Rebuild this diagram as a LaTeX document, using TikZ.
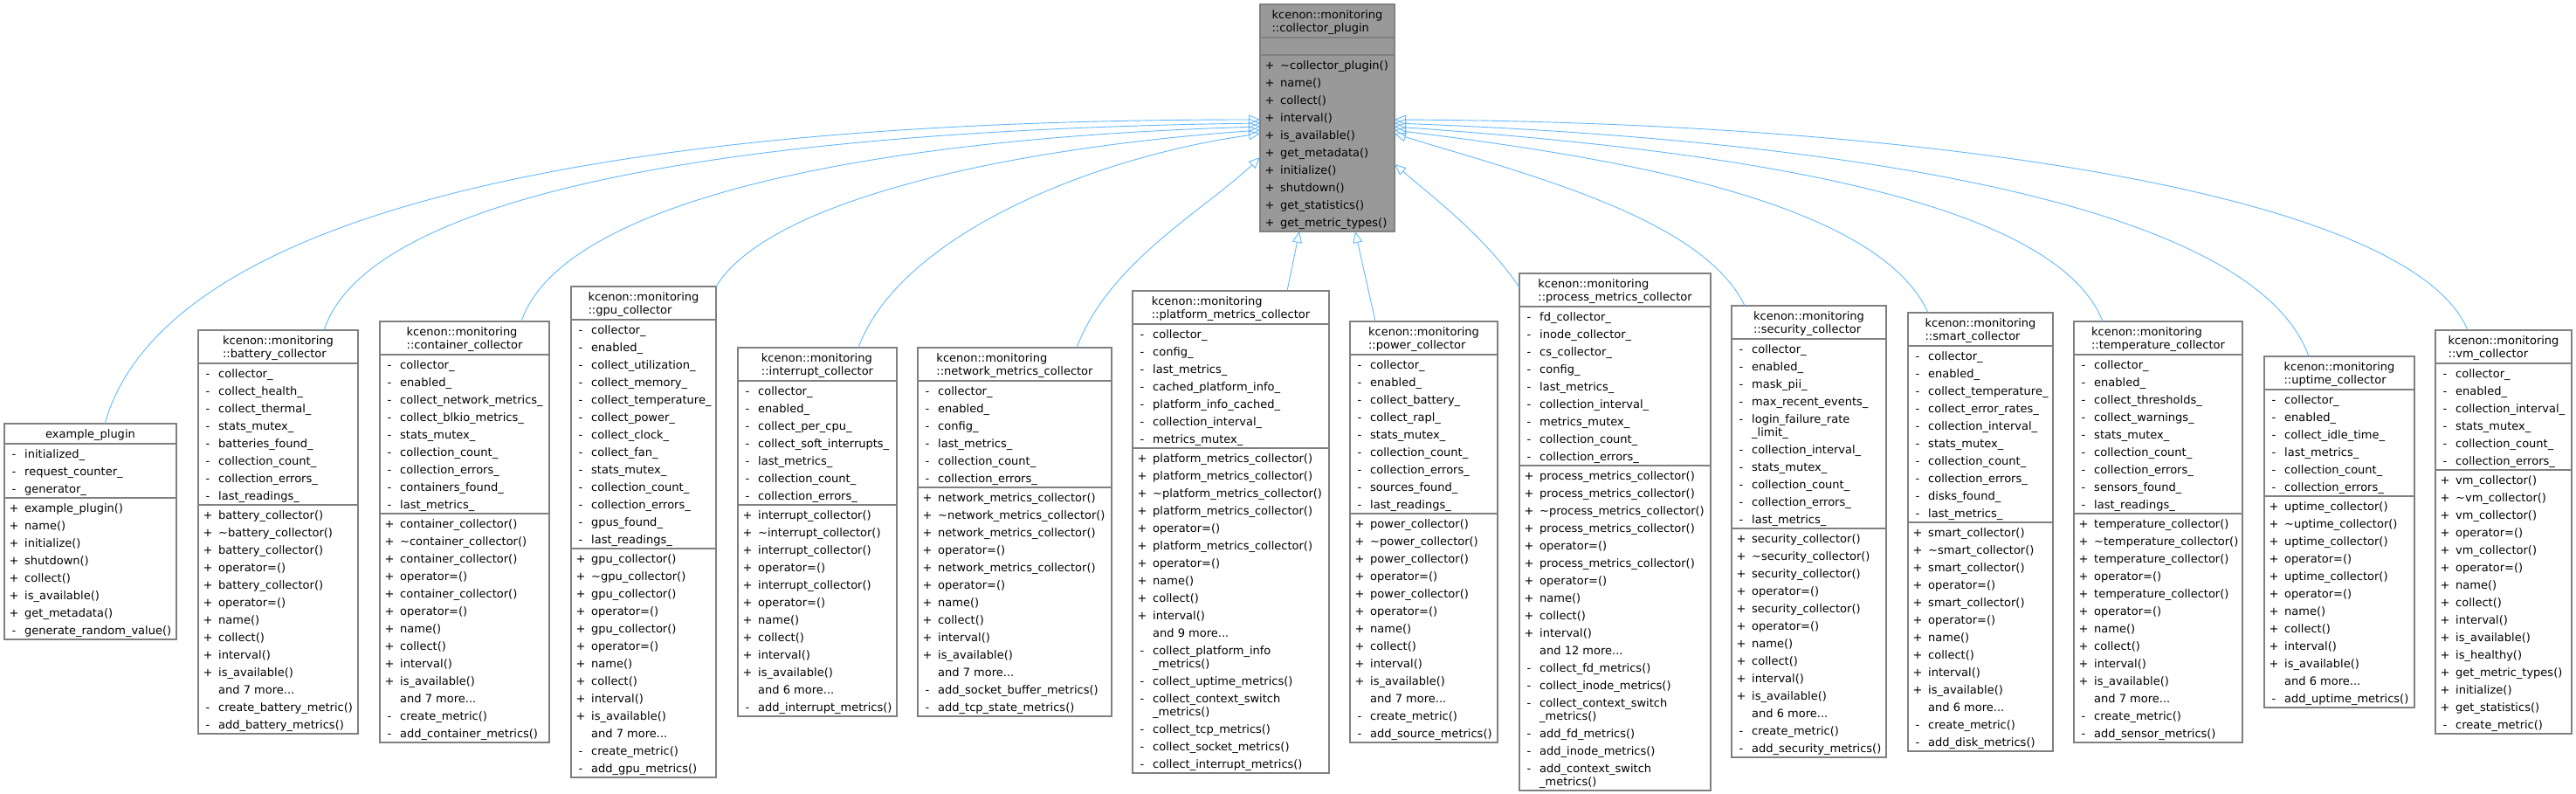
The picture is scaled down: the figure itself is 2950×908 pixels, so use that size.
\documentclass[tikz,border=0pt]{standalone}
\usepackage{fontspec}
\setmainfont{DejaVu Sans}
\usetikzlibrary{arrows.meta}
\definecolor{edgec}{HTML}{63B8FF}
\definecolor{bordc}{HTML}{808080}
\definecolor{basefill}{HTML}{999999}
\newcommand\tl{\textasciitilde}
\newcommand\dd{...}
\newcommand\bstart[5]{\xdef\bx{#1}\xdef\by{#2}\xdef\bw{#3}%
 \if\relax\detokenize{#5}\relax
  \node[ttl] at ({#1+#3/2},{#2+6}) {#4};
  \pgfmathsetmacro\cy{#2+23}\xdef\cury{\cy}%
 \else
  \node[ttl] at ({#1+#3/2},{#2+6}) {#4\\#5};
  \pgfmathsetmacro\cy{#2+38}\xdef\cury{\cy}%
 \fi
 \draw[bline] (#1,\cury) -- ++(#3,0);}
\newcommand\bsec[1]{%
 \pgfmathsetmacro\cy{\cury+1}\xdef\cury{\cy}%
 \foreach \m/\t/\h in {#1}{%
   \node[anchor=base,inner sep=0] at (\bx+11,\cury+\h-5) {\m};
   \node[anchor=base west,inner sep=0] at (\bx+23,\cury+\h-5) {\t};
   \pgfmathsetmacro\cy{\cury+\h}\xdef\cury{\cy}}%
 \pgfmathsetmacro\cy{\cury+1}\xdef\cury{\cy}%
 \draw[bline] (\bx,\cury) -- ++(\bw,0);}
\newcommand\bempty{\pgfmathsetmacro\cy{\cury+20}\xdef\cury{\cy}\draw[bline] (\bx,\cury) -- ++(\bw,0);}
\newcommand\bend[1]{\draw[bline] (\bx,\by) rectangle (\bx+\bw,\cury);
 \coordinate (#1) at (\bx,\by);}
\begin{document}
\begin{tikzpicture}[x=1pt,y=-1pt,font=\fontsize{13}{15}\selectfont,
 bline/.style={draw=bordc,line width=1.2pt},
 ttl/.style={align=left,anchor=north,inner sep=0},
 inh/.style={draw=edgec,line width=0.9pt,-{Triangle[open,length=13pt,width=11pt]}}]
\useasboundingbox (0,0) rectangle (2950,908);
% base
\fill[basefill] (1443,5) rectangle (1597,265);
\bstart{1443}{5}{154}{kcenon::monitoring}{::collector\_plugin}
\bempty
\bsec{+/\tl collector\_plugin()/20,+/name()/20,+/collect()/20,+/interval()/20,+/is\_available()/20,+/get\_metadata()/20,+/initialize()/20,+/shutdown()/20,+/get\_statistics()/20,+/get\_metric\_types()/20}
\bend{base}
% example
\bstart{5}{485}{197}{example\_plugin}{}
\bsec{-/initialized\_/20,-/request\_counter\_/20,-/generator\_/20}
\bsec{+/example\_plugin()/20,+/name()/20,+/initialize()/20,+/shutdown()/20,+/collect()/20,+/is\_available()/20,+/get\_metadata()/20,-/generate\_random\_value()/20}
\bend{example}
% battery
\bstart{227}{378}{183}{kcenon::monitoring}{::battery\_collector}
\bsec{-/collector\_/20,-/collect\_health\_/20,-/collect\_thermal\_/20,-/stats\_mutex\_/20,-/batteries\_found\_/20,-/collection\_count\_/20,-/collection\_errors\_/20,-/last\_readings\_/20}
\bsec{+/battery\_collector()/20,+/\tl battery\_collector()/20,+/battery\_collector()/20,+/operator=()/20,+/battery\_collector()/20,+/operator=()/20,+/name()/20,+/collect()/20,+/interval()/20,+/is\_available()/20,/and 7 more\dd/20,-/create\_battery\_metric()/20,-/add\_battery\_metrics()/20}
\bend{battery}
% container
\bstart{435}{368}{194}{kcenon::monitoring}{::container\_collector}
\bsec{-/collector\_/20,-/enabled\_/20,-/collect\_network\_metrics\_/20,-/collect\_blkio\_metrics\_/20,-/stats\_mutex\_/20,-/collection\_count\_/20,-/collection\_errors\_/20,-/containers\_found\_/20,-/last\_metrics\_/20}
\bsec{+/container\_collector()/20,+/\tl container\_collector()/20,+/container\_collector()/20,+/operator=()/20,+/container\_collector()/20,+/operator=()/20,+/name()/20,+/collect()/20,+/interval()/20,+/is\_available()/20,/and 7 more\dd/20,-/create\_metric()/20,-/add\_container\_metrics()/20}
\bend{container}
% gpu
\bstart{654}{328}{166}{kcenon::monitoring}{::gpu\_collector}
\bsec{-/collector\_/20,-/enabled\_/20,-/collect\_utilization\_/20,-/collect\_memory\_/20,-/collect\_temperature\_/20,-/collect\_power\_/20,-/collect\_clock\_/20,-/collect\_fan\_/20,-/stats\_mutex\_/20,-/collection\_count\_/20,-/collection\_errors\_/20,-/gpus\_found\_/20,-/last\_readings\_/20}
\bsec{+/gpu\_collector()/20,+/\tl gpu\_collector()/20,+/gpu\_collector()/20,+/operator=()/20,+/gpu\_collector()/20,+/operator=()/20,+/name()/20,+/collect()/20,+/interval()/20,+/is\_available()/20,/and 7 more\dd/20,-/create\_metric()/20,-/add\_gpu\_metrics()/20}
\bend{gpu}
% interrupt
\bstart{845}{398}{182}{kcenon::monitoring}{::interrupt\_collector}
\bsec{-/collector\_/20,-/enabled\_/20,-/collect\_per\_cpu\_/20,-/collect\_soft\_interrupts\_/20,-/last\_metrics\_/20,-/collection\_count\_/20,-/collection\_errors\_/20}
\bsec{+/interrupt\_collector()/20,+/\tl interrupt\_collector()/20,+/interrupt\_collector()/20,+/operator=()/20,+/interrupt\_collector()/20,+/operator=()/20,+/name()/20,+/collect()/20,+/interval()/20,+/is\_available()/20,/and 6 more\dd/20,-/add\_interrupt\_metrics()/20}
\bend{interrupt}
% network
\bstart{1051}{398}{222}{kcenon::monitoring}{::network\_metrics\_collector}
\bsec{-/collector\_/20,-/enabled\_/20,-/config\_/20,-/last\_metrics\_/20,-/collection\_count\_/20,-/collection\_errors\_/20}
\bsec{+/network\_metrics\_collector()/20,+/\tl network\_metrics\_collector()/20,+/network\_metrics\_collector()/20,+/operator=()/20,+/network\_metrics\_collector()/20,+/operator=()/20,+/name()/20,+/collect()/20,+/interval()/20,+/is\_available()/20,/and 7 more\dd/20,-/add\_socket\_buffer\_metrics()/20,-/add\_tcp\_state\_metrics()/20}
\bend{network}
% platform
\bstart{1297}{333}{225}{kcenon::monitoring}{::platform\_metrics\_collector}
\bsec{-/collector\_/20,-/config\_/20,-/last\_metrics\_/20,-/cached\_platform\_info\_/20,-/platform\_info\_cached\_/20,-/collection\_interval\_/20,-/metrics\_mutex\_/20}
\bsec{+/platform\_metrics\_collector()/20,+/platform\_metrics\_collector()/20,+/\tl platform\_metrics\_collector()/20,+/platform\_metrics\_collector()/20,+/operator=()/20,+/platform\_metrics\_collector()/20,+/operator=()/20,+/name()/20,+/collect()/20,+/interval()/20,/and 9 more\dd/20,-/collect\_platform\_info/20,/\_metrics()/15,-/collect\_uptime\_metrics()/20,-/collect\_context\_switch/20,/\_metrics()/15,-/collect\_tcp\_metrics()/20,-/collect\_socket\_metrics()/20,-/collect\_interrupt\_metrics()/20}
\bend{platform}
% power
\bstart{1546}{368}{169}{kcenon::monitoring}{::power\_collector}
\bsec{-/collector\_/20,-/enabled\_/20,-/collect\_battery\_/20,-/collect\_rapl\_/20,-/stats\_mutex\_/20,-/collection\_count\_/20,-/collection\_errors\_/20,-/sources\_found\_/20,-/last\_readings\_/20}
\bsec{+/power\_collector()/20,+/\tl power\_collector()/20,+/power\_collector()/20,+/operator=()/20,+/power\_collector()/20,+/operator=()/20,+/name()/20,+/collect()/20,+/interval()/20,+/is\_available()/20,/and 7 more\dd/20,-/create\_metric()/20,-/add\_source\_metrics()/20}
\bend{power}
% process
\bstart{1740}{313}{219}{kcenon::monitoring}{::process\_metrics\_collector}
\bsec{-/fd\_collector\_/20,-/inode\_collector\_/20,-/cs\_collector\_/20,-/config\_/20,-/last\_metrics\_/20,-/collection\_interval\_/20,-/metrics\_mutex\_/20,-/collection\_count\_/20,-/collection\_errors\_/20}
\bsec{+/process\_metrics\_collector()/20,+/process\_metrics\_collector()/20,+/\tl process\_metrics\_collector()/20,+/process\_metrics\_collector()/20,+/operator=()/20,+/process\_metrics\_collector()/20,+/operator=()/20,+/name()/20,+/collect()/20,+/interval()/20,/and 12 more\dd/20,-/collect\_fd\_metrics()/20,-/collect\_inode\_metrics()/20,-/collect\_context\_switch/20,/\_metrics()/15,-/add\_fd\_metrics()/20,-/add\_inode\_metrics()/20,-/add\_context\_switch/20,/\_metrics()/15}
\bend{process}
% security
\bstart{1983}{350}{177}{kcenon::monitoring}{::security\_collector}
\bsec{-/collector\_/20,-/enabled\_/20,-/mask\_pii\_/20,-/max\_recent\_events\_/20,-/login\_failure\_rate/20,/\_limit\_/15,-/collection\_interval\_/20,-/stats\_mutex\_/20,-/collection\_count\_/20,-/collection\_errors\_/20,-/last\_metrics\_/20}
\bsec{+/security\_collector()/20,+/\tl security\_collector()/20,+/security\_collector()/20,+/operator=()/20,+/security\_collector()/20,+/operator=()/20,+/name()/20,+/collect()/20,+/interval()/20,+/is\_available()/20,/and 6 more\dd/20,-/create\_metric()/20,-/add\_security\_metrics()/20}
\bend{security}
% smart
\bstart{2185}{358}{166}{kcenon::monitoring}{::smart\_collector}
\bsec{-/collector\_/20,-/enabled\_/20,-/collect\_temperature\_/20,-/collect\_error\_rates\_/20,-/collection\_interval\_/20,-/stats\_mutex\_/20,-/collection\_count\_/20,-/collection\_errors\_/20,-/disks\_found\_/20,-/last\_metrics\_/20}
\bsec{+/smart\_collector()/20,+/\tl smart\_collector()/20,+/smart\_collector()/20,+/operator=()/20,+/smart\_collector()/20,+/operator=()/20,+/name()/20,+/collect()/20,+/interval()/20,+/is\_available()/20,/and 6 more\dd/20,-/create\_metric()/20,-/add\_disk\_metrics()/20}
\bend{smart}
% temperature
\bstart{2375}{368}{193}{kcenon::monitoring}{::temperature\_collector}
\bsec{-/collector\_/20,-/enabled\_/20,-/collect\_thresholds\_/20,-/collect\_warnings\_/20,-/stats\_mutex\_/20,-/collection\_count\_/20,-/collection\_errors\_/20,-/sensors\_found\_/20,-/last\_readings\_/20}
\bsec{+/temperature\_collector()/20,+/\tl temperature\_collector()/20,+/temperature\_collector()/20,+/operator=()/20,+/temperature\_collector()/20,+/operator=()/20,+/name()/20,+/collect()/20,+/interval()/20,+/is\_available()/20,/and 7 more\dd/20,-/create\_metric()/20,-/add\_sensor\_metrics()/20}
\bend{temperature}
% uptime
\bstart{2593}{408}{172}{kcenon::monitoring}{::uptime\_collector}
\bsec{-/collector\_/20,-/enabled\_/20,-/collect\_idle\_time\_/20,-/last\_metrics\_/20,-/collection\_count\_/20,-/collection\_errors\_/20}
\bsec{+/uptime\_collector()/20,+/\tl uptime\_collector()/20,+/uptime\_collector()/20,+/operator=()/20,+/uptime\_collector()/20,+/operator=()/20,+/name()/20,+/collect()/20,+/interval()/20,+/is\_available()/20,/and 6 more\dd/20,-/add\_uptime\_metrics()/20}
\bend{uptime}
% vm
\bstart{2789}{378}{156}{kcenon::monitoring}{::vm\_collector}
\bsec{-/collector\_/20,-/enabled\_/20,-/collection\_interval\_/20,-/stats\_mutex\_/20,-/collection\_count\_/20,-/collection\_errors\_/20}
\bsec{+/vm\_collector()/20,+/\tl vm\_collector()/20,+/vm\_collector()/20,+/operator=()/20,+/vm\_collector()/20,+/operator=()/20,+/name()/20,+/collect()/20,+/interval()/20,+/is\_available()/20,+/is\_healthy()/20,+/get\_metric\_types()/20,+/initialize()/20,+/get\_statistics()/20,-/create\_metric()/20}
\bend{vm}
% attach points on base
\coordinate (bL1) at (1443,137); \coordinate (bL2) at (1443,141);
\coordinate (bL3) at (1443,145); \coordinate (bL4) at (1443,149);
\coordinate (bL5) at (1443,153); \coordinate (bL6) at (1443,180);
\coordinate (bB1) at (1488,265); \coordinate (bB2) at (1552,265);
\coordinate (bR6) at (1597,188);
\coordinate (bR1) at (1597,137); \coordinate (bR2) at (1597,141);
\coordinate (bR3) at (1597,145); \coordinate (bR4) at (1597,149);
\coordinate (bR5) at (1597,153);
% attach points on children
\coordinate (sEx) at (120,485); \coordinate (sBa) at (371,378);
\coordinate (sCo) at (597,368); \coordinate (sGp) at (820,328);
\coordinate (sIn) at (983,398); \coordinate (sNe) at (1233,398);
\coordinate (sPl) at (1474,333); \coordinate (sPo) at (1575,368);
\coordinate (sPr) at (1740,329); \coordinate (sSe) at (1998,350);
\coordinate (sSm) at (2208,358); \coordinate (sTe) at (2408,368);
\coordinate (sUp) at (2644,408); \coordinate (sVm) at (2826,378);
\draw[inh] (sEx) .. controls (190,240) and (700,137) .. (bL1);
\draw[inh] (sBa) .. controls (420,230) and (800,150) .. (bL2);
\draw[inh] (sCo) .. controls (640,240) and (950,160) .. (bL3);
\draw[inh] (sGp) .. controls (880,230) and (1150,170) .. (bL4);
\draw[inh] (sIn) .. controls (1030,270) and (1250,180) .. (bL5);
\draw[inh] (sNe) .. controls (1270,300) and (1380,240) .. (bL6);
\draw[inh] (sPl) -- (bB1);
\draw[inh] (sPo) -- (bB2);
\draw[inh] (sPr) .. controls (1700,270) and (1640,225) .. (bR6);
\draw[inh] (sSe) .. controls (1950,250) and (1750,200) .. (bR5);
\draw[inh] (sSm) .. controls (2150,230) and (1850,180) .. (bR4);
\draw[inh] (sTe) .. controls (2350,220) and (1950,170) .. (bR3);
\draw[inh] (sUp) .. controls (2580,230) and (2100,160) .. (bR2);
\draw[inh] (sVm) .. controls (2760,220) and (2200,140) .. (bR1);
\end{tikzpicture}
\end{document}
